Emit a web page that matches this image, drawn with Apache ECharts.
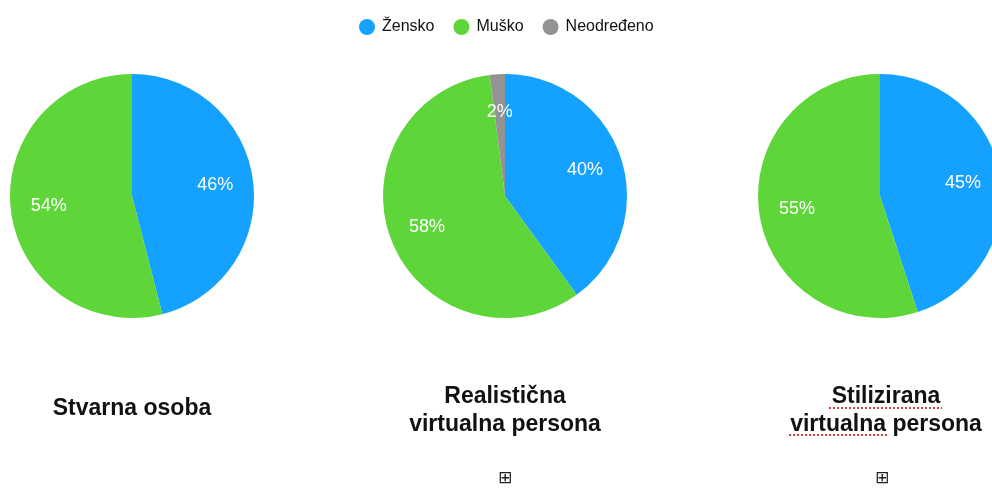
<!DOCTYPE html>
<html>
<head>
<meta charset="utf-8">
<script src="https://cdn.jsdelivr.net/npm/echarts@6/dist/echarts.min.js"></script>
<style>
  html, body { margin: 0; padding: 0; background: #fff; }
  #chart { width: 992px; height: 488px; }
</style>
</head>
<body>
<div id="chart"></div>
<script>
// data
var categories = ['Žensko', 'Muško', 'Neodređeno'];
var stvarna = [46, 54, 0];
var realisticna = [40, 58, 2];
var stilizirana = [45, 55, 0];
var colors = ['#14a1ff', '#5ed63a', '#939393'];

(function () {
  var el = document.getElementById('chart');
  var chart = echarts.init(el);
  var FONT = 'Liberation Sans, Arial, Helvetica, sans-serif';

  function toData(vals) {
    return vals.map(function (v, i) {
      return { name: categories[i], value: v };
    });
  }

  // drawn pie (no labels) + transparent label ring so labels sit ~2/3 out
  function pies(cx, vals) {
    return [{
      type: 'pie', center: [cx, 196], radius: [0, 122],
      startAngle: 90, clockwise: true, silent: true,
      label: { show: false }, labelLine: { show: false },
      itemStyle: { borderWidth: 0 },
      data: toData(vals)
    }, {
      type: 'pie', center: [cx, 196], radius: [40, 122],
      startAngle: 90, clockwise: true, silent: true,
      itemStyle: { color: 'rgba(0,0,0,0)', borderWidth: 0 },
      label: {
        show: true, position: 'inside', color: '#fff',
        fontFamily: FONT, fontSize: 18,
        formatter: function (p) { return p.value > 0 ? p.value + '%' : ''; }
      },
      labelLine: { show: false },
      legendHoverLink: false,
      data: toData(vals).map(function (d) { return { name: d.name + ' ', value: d.value }; })
    }];
  }

  var series = [].concat(pies(132, stvarna), pies(505, realisticna), pies(880, stilizirana));

  function title(x, y, text) {
    return {
      type: 'text', x: x, y: y,
      style: {
        text: text, fill: '#111', font: 'bold 23px ' + FONT,
        textAlign: 'center', textVerticalAlign: 'middle', lineHeight: 28
      }
    };
  }
  function icon(x) {
    return {
      type: 'text', x: x, y: 479,
      style: { text: '\u229E', fill: '#222', font: '17px DejaVu Sans', textAlign: 'center', textVerticalAlign: 'middle' }
    };
  }
  function squiggle(x1, x2, y) {
    return {
      type: 'line', shape: { x1: x1, y1: y, x2: x2, y2: y },
      style: { stroke: '#e03a3a', lineWidth: 2, lineDash: [2, 2] }
    };
  }

  chart.setOption({
    animation: false,
    color: colors,
    legend: {
      top: 14, left: 354,
      icon: 'circle', itemWidth: 16, itemHeight: 16, itemGap: 19,
      data: categories,
      textStyle: { fontFamily: FONT, fontSize: 16, color: '#111', padding: [0, 0, 0, 2] }
    },
    series: series,
    graphic: [
      title(132, 409, 'Stvarna osoba'),
      title(505, 411, 'Realistična\nvirtualna persona'),
      title(886, 411, 'Stilizirana\nvirtualna persona'),
      squiggle(829, 942, 408),
      squiggle(789, 887, 435),
      icon(505), icon(882)
    ]
  });
})();
</script>
</body>
</html>
